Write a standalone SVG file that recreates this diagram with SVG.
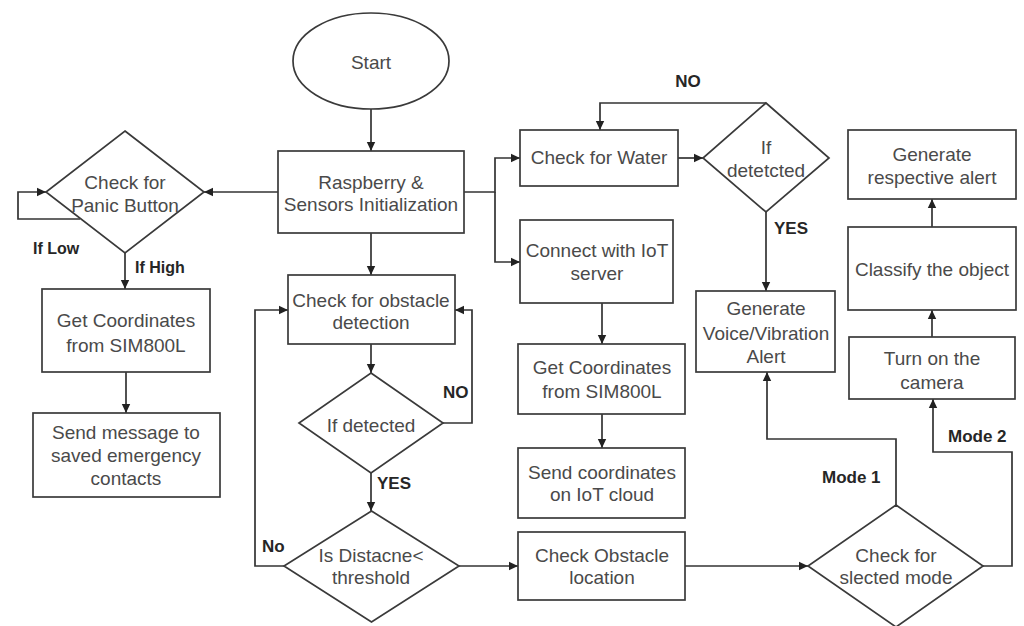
<svg xmlns="http://www.w3.org/2000/svg" width="1024" height="626" viewBox="0 0 1024 626">
<defs>
<marker id="ah" markerUnits="userSpaceOnUse" markerWidth="12" markerHeight="12" refX="9" refY="5" orient="auto">
<path d="M0,0.8 L9,5 L0,9.2 z" fill="#222"/>
</marker>
<style>
.n{fill:#fff;stroke:#3a3a3a;stroke-width:1.7}
.t{font-family:"Liberation Sans",Arial,sans-serif;font-size:19px;fill:#4a4a4a;text-anchor:middle;dominant-baseline:central}
.l{font-family:"Liberation Sans",Arial,sans-serif;font-size:17px;font-weight:bold;fill:#262626;dominant-baseline:central}
.c{fill:none;stroke:#333;stroke-width:1.7;marker-end:url(#ah)}
.c2{fill:none;stroke:#333;stroke-width:1.7}
</style>
</defs>
<rect width="1024" height="626" fill="#fff"/>
<g id="connectors">
<path class="c" d="M371,109 V151"/>
<path class="c" d="M278,192 H204"/>
<path class="c" d="M80,219 H18 V192 H46"/>
<path class="c" d="M125,253 V289"/>
<path class="c" d="M126,372 V413"/>
<path class="c" d="M464,192 H495 V158 H520"/>
<path class="c" d="M495,192 V262 H520"/>
<path class="c" d="M678,158 H703"/>
<path class="c" d="M766,103 H600 V130"/>
<path class="c" d="M766,212 V291"/>
<path class="c" d="M602,303 V344"/>
<path class="c" d="M602,414 V448"/>
<path class="c" d="M371,233 V275"/>
<path class="c" d="M371,344 V373"/>
<path class="c" d="M443,423 H472 V310 H455"/>
<path class="c" d="M371,473 V511"/>
<path class="c" d="M284,566 H255 V310 H288"/>
<path class="c" d="M459,566 H518"/>
<path class="c" d="M685,566 H808"/>
<path class="c" d="M896,505 V439 H767 V372"/>
<path class="c" d="M983,566 H1012 V452 H933 V399"/>
<path class="c" d="M932,337 V310"/>
<path class="c" d="M932,227 V199"/>
</g>
<g id="labels">
<text class="l" x="33" y="248" style="font-size:16px">If Low</text>
<text class="l" x="135" y="267" style="font-size:16px">If High</text>
<text class="l" x="688" y="81" text-anchor="middle">NO</text>
<text class="l" x="774" y="228">YES</text>
<text class="l" x="443" y="392">NO</text>
<text class="l" x="377" y="483">YES</text>
<text class="l" x="262" y="546">No</text>
<text class="l" x="822" y="477">Mode 1</text>
<text class="l" x="948" y="436">Mode 2</text>
</g>
<g id="start">
<ellipse class="n" cx="371" cy="61" rx="78" ry="48"/>
<text class="t" x="371" y="62">Start</text>
</g>
<g id="init">
<rect class="n" x="278" y="151" width="186" height="82"/>
<text class="t"><tspan x="371" y="182">Raspberry &amp;</tspan><tspan x="371" y="204">Sensors Initialization</tspan></text>
</g>
<g id="panic">
<polygon class="n" points="125,131 204,192 125,253 46,192"/>
<text class="t"><tspan x="125" y="182">Check for</tspan><tspan x="125" y="205">Panic Button</tspan></text>
</g>
<g id="getcoord1">
<rect class="n" x="42" y="289" width="168" height="83"/>
<text class="t"><tspan x="126" y="320">Get Coordinates</tspan><tspan x="126" y="345">from SIM800L</tspan></text>
</g>
<g id="sendmsg">
<rect class="n" x="33" y="413" width="187" height="84"/>
<text class="t"><tspan x="126" y="432">Send message to</tspan><tspan x="126" y="455">saved emergency</tspan><tspan x="126" y="478">contacts</tspan></text>
</g>
<g id="obstacle">
<rect class="n" x="288" y="275" width="167" height="69"/>
<text class="t"><tspan x="371" y="300">Check for obstacle</tspan><tspan x="371" y="322">detection</tspan></text>
</g>
<g id="ifdetected">
<polygon class="n" points="371,373 443,423 371,473 299,423"/>
<text class="t" x="371" y="425">If detected</text>
</g>
<g id="distance">
<polygon class="n" points="371.5,511 459,566 371.5,622 284,566"/>
<text class="t"><tspan x="371" y="555">Is Distacne&lt;</tspan><tspan x="371" y="577">threshold</tspan></text>
</g>
<g id="water">
<rect class="n" x="520" y="130" width="158" height="56"/>
<text class="t" x="599" y="157">Check for Water</text>
</g>
<g id="ifwater">
<polygon class="n" points="766,103 829,158 766,212 703,158"/>
<text class="t"><tspan x="766" y="147">If</tspan><tspan x="766" y="170">detetcted</tspan></text>
</g>
<g id="connect">
<rect class="n" x="520" y="220" width="153" height="83"/>
<text class="t"><tspan x="597" y="250">Connect with IoT</tspan><tspan x="597" y="273">server</tspan></text>
</g>
<g id="getcoord2">
<rect class="n" x="518" y="344" width="167" height="70"/>
<text class="t"><tspan x="602" y="367">Get Coordinates</tspan><tspan x="602" y="391">from SIM800L</tspan></text>
</g>
<g id="sendcoord">
<rect class="n" x="518" y="448" width="167" height="70"/>
<text class="t"><tspan x="602" y="472">Send coordinates</tspan><tspan x="602" y="494">on IoT cloud</tspan></text>
</g>
<g id="obstloc">
<rect class="n" x="518" y="532" width="167" height="68"/>
<text class="t"><tspan x="602" y="555">Check Obstacle</tspan><tspan x="602" y="577">location</tspan></text>
</g>
<g id="voice">
<rect class="n" x="696" y="291" width="139" height="81"/>
<text class="t"><tspan x="766" y="308">Generate</tspan><tspan x="766" y="333">Voice/Vibration</tspan><tspan x="766" y="356">Alert</tspan></text>
</g>
<g id="mode">
<polygon class="n" points="896,505 983,566 896,627 808,566"/>
<text class="t"><tspan x="896" y="555">Check for</tspan><tspan x="896" y="577">slected mode</tspan></text>
</g>
<g id="camera">
<rect class="n" x="849" y="337" width="166" height="62"/>
<text class="t"><tspan x="932" y="358">Turn on the</tspan><tspan x="932" y="382">camera</tspan></text>
</g>
<g id="classify">
<rect class="n" x="848" y="227" width="168" height="83"/>
<text class="t" x="932" y="269">Classify the object</text>
</g>
<g id="genalert">
<rect class="n" x="848" y="130" width="168" height="69"/>
<text class="t"><tspan x="932" y="154">Generate</tspan><tspan x="932" y="177">respective alert</tspan></text>
</g>
</svg>
